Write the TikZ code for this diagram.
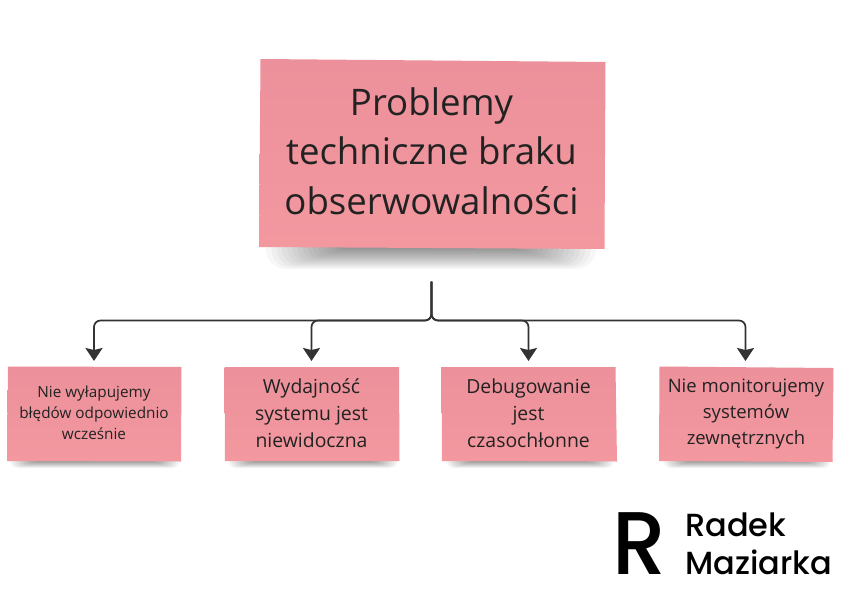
\documentclass[tikz,border=0pt]{standalone}
\usepackage{fontspec}
\setmainfont{Open Sans}
\newfontfamily\logofont{Poppins Medium}
\usetikzlibrary{arrows.meta}
\definecolor{stickdark}{HTML}{EC919B}
\definecolor{sticklight}{HTML}{F3989F}
\definecolor{ink}{HTML}{222222}
\definecolor{wire}{HTML}{333333}
\tikzset{
  x=1pt,y=-1pt,
  paper/.style={top color=stickdark,bottom color=sticklight,draw=none},
  anchorbox/.style={inner sep=0pt,outer sep=0pt,minimum width=#1},
  bigtext/.style={font=\fontsize{36.6}{49.5}\selectfont,text=ink,align=center,inner sep=0pt},
  smalltext/.style={font=\fontsize{19.4}{27}\selectfont,text=ink,align=center,inner sep=0pt},
  smallertext/.style={font=\fontsize{18.5}{26}\selectfont,text=ink,align=center,inner sep=0pt},
  tinytext/.style={font=\fontsize{15.3}{21}\selectfont,text=ink,align=center,inner sep=0pt},
  conn/.style={draw=wire,line width=1.7pt,rounded corners=6.5pt,-{Stealth[width=17pt,length=13pt,inset=2pt]},shorten >=6pt},
  logosmall/.style={font=\logofont\fontsize{32}{34}\selectfont,text=black,anchor=base west,inner sep=0pt},
  logolarge/.style={font=\logofont\fontsize{89}{89}\selectfont,text=black,anchor=base west,inner sep=0pt,xscale=0.96}
}
\newcommand{\softshadow}[4]{% x1 x2 ytop ydepth
  \foreach \k in {0,...,15}{
    \pgfmathsetmacro{\dep}{#4*(1-\k/16)}
    \pgfmathsetmacro{\ins}{\k*3.6*#4/15}
    \fill[black,opacity=0.03,rounded corners=\dep*0.9pt]
      ({#1+\ins},{#3-#4}) rectangle ({#2-\ins},{#3+\dep});
  }
}
\begin{document}
\begin{tikzpicture}
\useasboundingbox (0,0) rectangle (847,608);
\fill[white] (0,0) rectangle (847,608);
% shadows
\softshadow{266}{596}{247}{22}
\softshadow{10}{180}{460}{8}
\softshadow{228}{398}{460}{8}
\softshadow{446}{614}{460}{8}
\softshadow{663}{831}{460}{8}
% papers
\path[paper] (260.5,59) -- (605.5,62) -- (604.5,249) -- (259,247) -- cycle;
\path[paper] (8,366.5) -- (181.5,367) -- (181,461.5) -- (7,461) -- cycle;
\path[paper] (224.5,367) -- (399,367) -- (399.5,461) -- (225,461) -- cycle;
\path[paper] (441.5,367) -- (615.5,367) -- (617,461.5) -- (442,461) -- cycle;
\path[paper] (659.5,366.5) -- (833.5,368) -- (832.5,462) -- (659,461) -- cycle;
% anchor nodes for the boxes
\node[anchorbox=345pt,minimum height=189pt] (main) at (431.5,154) {};
\node[anchorbox=174pt,minimum height=94pt] (b1) at (94,414) {};
\node[anchorbox=174pt,minimum height=94pt] (b2) at (311.5,414) {};
\node[anchorbox=174pt,minimum height=94pt] (b3) at (528.5,414) {};
\node[anchorbox=174pt,minimum height=94pt] (b4) at (745.5,414) {};
% labels
\node[bigtext] (tmain) at (431.5,151) {Problemy\\techniczne braku\\obserwowalności};
\node[tinytext] (t1) at (94,413) {Nie wyłapujemy\\błędów odpowiednio\\wcześnie};
\node[smalltext] (t2) at (311.5,413) {Wydajność\\systemu jest\\niewidoczna};
\node[smalltext] (t3) at (528.5,413) {Debugowanie\\jest\\czasochłonne};
\node[smallertext] (t4) at (746,414) {Nie monitorujemy\\systemów\\zewnętrznych};
% connectors
\coordinate (bus) at (431.5,320.5);
\foreach \t in {b1,b2,b3,b4}{
  \draw[conn,shorten <=33pt] (main.south) -- (main.south |- bus) -- (\t.north |- bus) -- (\t.north);
}
% logo
\node[logolarge] (logoR) at (612,574) {R};
\node[logosmall] (logo1) at (685,536) {Radek};
\node[logosmall] (logo2) at (685,574) {Maziarka};
\end{tikzpicture}
\end{document}
